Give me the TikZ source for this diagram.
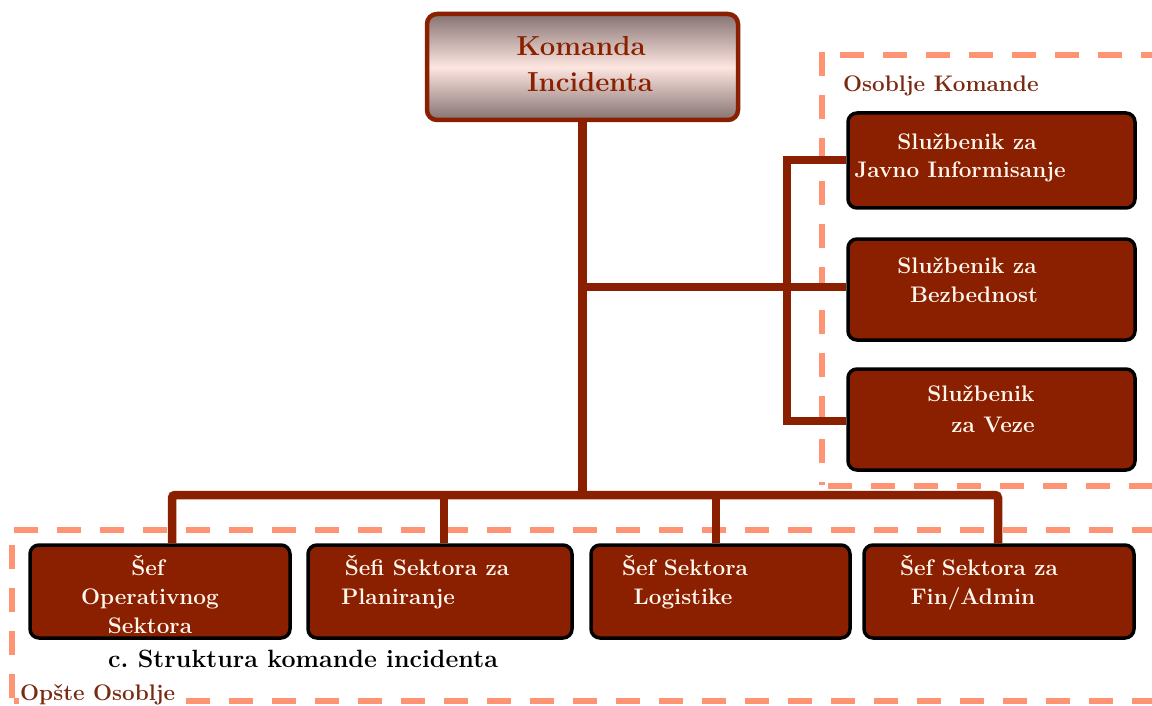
\documentclass[tikz,border=0pt]{standalone}
\usepackage{fontspec}
\definecolor{brn}{HTML}{8B2000}
\definecolor{salmon}{HTML}{FF9475}
\definecolor{cream}{HTML}{FFF6EE}
\definecolor{lblred}{HTML}{7A2A12}
\definecolor{topgray}{HTML}{857272}
\definecolor{toppink}{HTML}{FDE6E0}
\begin{document}
\begin{tikzpicture}[x=1pt,y=-1pt,
  conn/.style={draw=brn, line width=8.5pt},
  staffbox/.style={draw=black, line width=3.5pt, fill=brn, rounded corners=9pt, inner sep=0},
  lbl/.style={text=cream, font=\bfseries\fontsize{22.5}{26}\selectfont, anchor=base, inner sep=0},
  topl/.style={text=brn, font=\bfseries\fontsize{27.5}{31}\selectfont, anchor=base, inner sep=0},
  frame/.style={draw=salmon, line width=6pt, dash pattern=on 24pt off 19pt},
  grp/.style={text=lblred, font=\bfseries\fontsize{22.5}{26}\selectfont, anchor=base west, inner sep=1pt}
]
\useasboundingbox (0,0) rectangle (1152,706);
\fill[white] (0,0) rectangle (1152,706);

% dashed frames
\draw[frame] (822,52) -- (822,485);
\draw[frame] (840,55) -- (1152,55);
\draw[frame] (828,486) -- (1152,486);
\draw[frame] (14,530) -- (1152,530);
\draw[frame] (12,545) -- (12,706);
\draw[frame] (14,701) -- (1152,701);

% top box
\node[draw=brn, line width=4.5pt, rounded corners=10pt, minimum width=311, minimum height=106,
      top color=topgray, bottom color=topgray, middle color=toppink, inner sep=0] (top) at (582.5,67) {};
\node[topl] (t1) at (581,56) {Komanda};
\node[topl] (t2) at (590,92) {Incidenta};

% staff boxes
\node[staffbox, minimum width=287, minimum height=95] (s1) at (991.5,160.5) {};
\node[staffbox, minimum width=287, minimum height=101] (s2) at (991.5,289.5) {};
\node[staffbox, minimum width=287, minimum height=101] (s3) at (991.5,419.5) {};

% section boxes
\node[staffbox, minimum width=260, minimum height=93] (sA) at (160,591.5) {};
\node[staffbox, minimum width=264, minimum height=93] (sB) at (440,591.5) {};
\node[staffbox, minimum width=259, minimum height=93] (sC) at (720.5,591.5) {};
\node[staffbox, minimum width=270, minimum height=93] (sD) at (999,591.5) {};

% labels
\node[lbl] (s1a) at (967,150) {Službenik za};
\node[lbl] (s1b) at (960,178) {Javno Informisanje};
\node[lbl] (s2a) at (967,273) {Službenik za};
\node[lbl] (s2b) at (974,302) {Bezbednost};
\node[lbl] (s3a) at (981,401) {Službenik};
\node[lbl] (s3b) at (993,432) {za Veze};
\node[lbl] (sAa) at (148,575) {Šef};
\node[lbl] (sAb) at (150,604) {Operativnog};
\node[lbl] (sAc) at (150,633) {Sektora};
\node[lbl] (sBa) at (427,575) {Šefi Sektora za};
\node[lbl] (sBb) at (398,604) {Planiranje};
\node[lbl] (sCa) at (685,575) {Šef Sektora};
\node[lbl] (sCb) at (683,604) {Logistike};
\node[lbl] (sDa) at (979,575) {Šef Sektora za};
\node[lbl] (sDb) at (973,604) {Fin/Admin};

\node[grp] (gk) at (842,92) {Osoblje Komande};
\node[grp, fill=white] (go) at (19,700) {Opšte Osoblje};
\node[font=\bfseries\fontsize{25}{29}\selectfont, anchor=base, inner sep=0] (cap) at (303,667) {c.\ Struktura komande incidenta};

% connector coordinates
\coordinate (j1) at (582,287);
\coordinate (j2) at (582,495);
\coordinate (k1) at (787,160);
\coordinate (k3) at (787,421);
\coordinate (dA) at (172,495);
\coordinate (dB) at (444,495);
\coordinate (dC) at (716,495);
\coordinate (dD) at (998,495);

% connectors
\draw[conn] (top.south) -- (top.south |- j2);
\draw[conn] (j1) -- (j1 -| s2.west);
\draw[conn] (s1.west |- k1) -- (k1) -- (k3) -- (s3.west |- k3);
\draw[conn, rounded corners=3pt] (dA |- sA.north) -- (dA) -- (dD) -- (dD |- sD.north);
\draw[conn] (dB) -- (dB |- sB.north);
\draw[conn] (dC) -- (dC |- sC.north);
\end{tikzpicture}
\end{document}
